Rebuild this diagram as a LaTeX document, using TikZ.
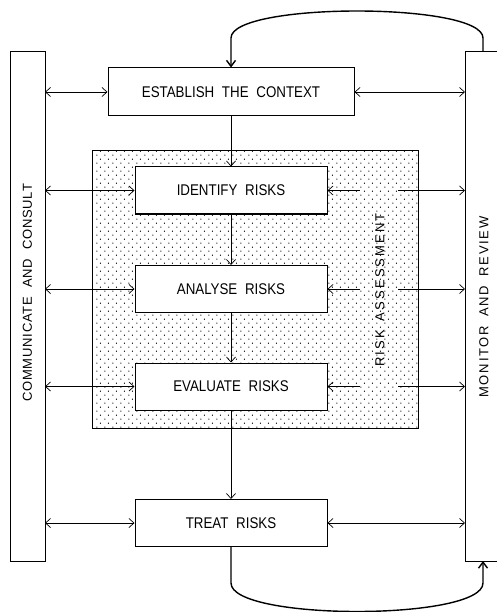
\documentclass[tikz,border=0pt]{standalone}
\usepackage{fontspec}
\setmainfont{Liberation Sans}
\usetikzlibrary{arrows.meta,patterns}

% staggered stipple used for the risk assessment frame
\pgfdeclarepatternformonly{stipple}{\pgfqpoint{0pt}{0pt}}{\pgfqpoint{8pt}{8.4pt}}{\pgfqpoint{8pt}{8.4pt}}{%
  \pgfpathcircle{\pgfqpoint{1pt}{1pt}}{0.72pt}%
  \pgfpathcircle{\pgfqpoint{5pt}{5.2pt}}{0.72pt}%
  \pgfusepath{fill}}

\newcommand{\wgap}{\hspace{9pt}}
\newcommand{\boxtext}[1]{\scalebox{0.86}[1]{#1}}
\newcommand{\sidetext}[2]{{\addfontfeature{LetterSpace=#1}#2}}

\tikzset{
  stepbox/.style={draw, line width=1pt, fill=white, minimum width=192pt,
    minimum height=47pt, inner sep=0pt, font=\fontsize{15.5}{17}\selectfont},
  bigbox/.style={stepbox, minimum width=246pt, minimum height=48pt},
  sidebar/.style={draw, line width=1pt},
  flow/.style={line width=0.7pt, -{Straight Barb[length=5pt,width=9pt]}},
  link/.style={line width=0.7pt, {Straight Barb[length=5pt,width=9pt]}-{Straight Barb[length=5pt,width=9pt]}},
  linkin/.style={line width=0.7pt, -{Straight Barb[length=5pt,width=9pt]}},
  loopback/.style={line width=1.4pt, -{Straight Barb[length=6pt,width=9pt,line width=1.4pt]}},
  sidelabel/.style={rotate=90, font=\fontsize{13}{15}\selectfont, inner sep=0pt},
}

\begin{document}
\begin{tikzpicture}[x=1pt, y=-1pt]
\useasboundingbox (0,0) rectangle (497,612);
\clip (0,0) rectangle (497,612);

% side bars
\draw[sidebar] (10,52) rectangle (45,561);
\draw[sidebar] (465,52) rectangle (520,561);
\node[sidelabel] (cclab) at (27.5,293) {\sidetext{6}{COMMUNICATE\wgap AND\wgap CONSULT}};
\node[sidelabel] (mrlab) at (484,307) {\sidetext{14}{MONITOR\wgap AND\wgap REVIEW}};
\coordinate (ccedge) at (45,300);
\coordinate (mredge) at (465,300);

% risk assessment frame
\draw[line width=1pt, pattern=stipple, pattern color=black] (92,151) rectangle (418,428);
\node[sidelabel] (ralab) at (380,290) {\sidetext{16}{RISK\wgap ASSESSMENT}};

% process steps
\node[bigbox]  (ctx) at (231,92)    {\boxtext{ESTABLISH\wgap THE\wgap CONTEXT}};
\node[stepbox] (idf) at (231,190.5) {\boxtext{IDENTIFY\wgap RISKS}};
\node[stepbox] (ana) at (231,289)   {\boxtext{ANALYSE\wgap RISKS}};
\node[stepbox] (eva) at (231,386.5) {\boxtext{EVALUATE\wgap RISKS}};
\node[stepbox] (trt) at (231,523)   {\boxtext{TREAT\wgap RISKS}};

% main flow
\draw[flow] (ctx.south) -- (idf.north);
\draw[flow] (idf.south) -- (ana.north);
\draw[flow] (ana.south) -- (eva.north);
\draw[flow] (eva.south) -- (trt.north);

% links to communicate and consult
\foreach \s in {ctx,idf,ana,eva,trt}
  \draw[link] (ccedge |- \s.west) -- (\s.west);

% links to monitor and review
\draw[link] (ctx.east) -- (mredge |- ctx.east);
\draw[link] (trt.east) -- (mredge |- trt.east);
\foreach \s in {idf,ana,eva}{
  \coordinate (\s gapa) at (360,0 |- \s.east);
  \coordinate (\s gapb) at (398,0 |- \s.east);
  \draw[line width=0.7pt, {Straight Barb[length=5pt,width=9pt]}-] (\s.east) -- (\s gapa);
  \draw[linkin] (\s gapb) -- (mredge |- \s.east);
}

% feedback loops
\coordinate (fbtop) at (483,52);
\coordinate (fbbot) at (483,561);
\draw[loopback] (fbtop) -- (483,38) .. controls (483,2) and (231,2) .. (231,38) -- (ctx.north);
\draw[loopback] (trt.south) -- (231,583) .. controls (231,621) and (483,621) .. (483,583) -- (fbbot);
\end{tikzpicture}
\end{document}
